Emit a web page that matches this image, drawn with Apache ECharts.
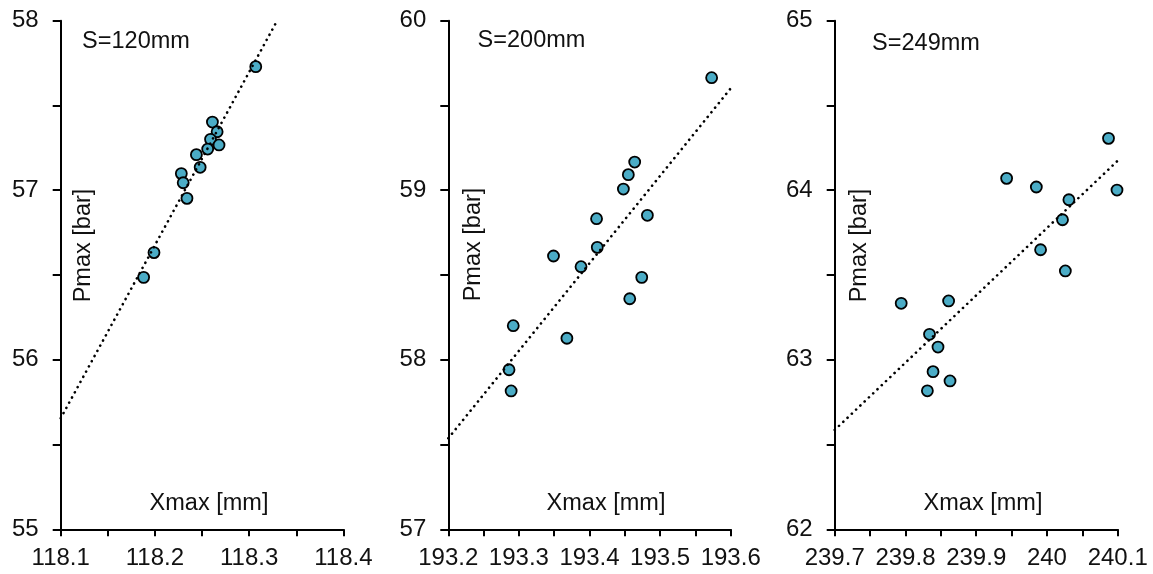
<!DOCTYPE html>
<html>
<head>
<meta charset="utf-8">
<script src="https://cdn.jsdelivr.net/npm/echarts@6/dist/echarts.min.js"></script>
<style>
  html, body { margin: 0; padding: 0; background: #fff; }
  #chart { width: 1153px; height: 574px; }
</style>
</head>
<body>
<div id="chart"></div>
<script>
// ---- Data ----
const panelTitles = ['S=120mm', 'S=200mm', 'S=249mm'];
const xAxisTitle = 'Xmax [mm]';
const yAxisTitle = 'Pmax [bar]';

const xMin = [118.1, 193.2, 239.7];
const xMax = [118.4, 193.6, 240.1];
const yMin = [55, 57, 62];
const yMax = [58, 60, 65];

const s120X = [118.307, 118.261, 118.266, 118.259, 118.268, 118.256, 118.244, 118.248, 118.228, 118.230, 118.234, 118.199, 118.188];
const s120Y = [57.729, 57.402, 57.345, 57.300, 57.267, 57.243, 57.210, 57.135, 57.098, 57.044, 56.952, 56.632, 56.486];

const s200X = [193.573, 193.464, 193.455, 193.448, 193.482, 193.410, 193.411, 193.349, 193.388, 193.474, 193.457, 193.292, 193.368, 193.286, 193.289];
const s200Y = [59.664, 59.166, 59.092, 59.007, 58.852, 58.832, 58.663, 58.612, 58.549, 58.486, 58.360, 58.201, 58.127, 57.941, 57.816];

const s249X = [240.087, 239.943, 239.985, 240.099, 240.031, 240.022, 239.991, 240.026, 239.794, 239.861, 239.834, 239.846, 239.839, 239.863, 239.831];
const s249Y = [64.306, 64.070, 64.019, 64.001, 63.944, 63.826, 63.649, 63.524, 63.333, 63.347, 63.150, 63.075, 62.930, 62.875, 62.817];

// linear trend lines (start / end)
const trend120X = [118.1, 118.3285];
const trend120Y = [55.655, 57.988];
const trend200X = [193.2, 193.6];
const trend200Y = [57.537, 59.601];
const trend249X = [239.7, 240.1];
const trend249Y = [62.586, 64.174];

// ---- Build ----
const pointsX = [s120X, s200X, s249X];
const pointsY = [s120Y, s200Y, s249Y];
const trendX = [trend120X, trend200X, trend249X];
const trendY = [trend120Y, trend200Y, trend249Y];

const FONT = '"Liberation Sans", Arial, sans-serif';
const TXT = '#111';
const FS_TICK = 24;
const FS_TXT = 23.5;

const gridBoxes = [
  { left: 60.7, top: 20.7, width: 282.7, height: 508.6 },
  { left: 448.3, top: 20.7, width: 282.4, height: 508.6 },
  { left: 834.7, top: 20.7, width: 283.0, height: 508.6 }
];

const zip = (xs, ys) => xs.map((x, i) => [x, ys[i]]);

const grids = [], xAxes = [], yAxes = [], series = [];
for (let p = 0; p < 3; p++) {
  grids.push(Object.assign({ containLabel: false }, gridBoxes[p]));
  xAxes.push({
    type: 'value', gridIndex: p, min: xMin[p], max: xMax[p], interval: 0.05,
    axisLine: { show: true, onZero: false, lineStyle: { color: '#000', width: 2 } },
    axisTick: { show: true, inside: false, length: 7, lineStyle: { color: '#000', width: 2 } },
    splitLine: { show: false },
    axisLabel: {
      margin: 17, color: TXT, fontSize: FS_TICK, fontFamily: FONT,
      formatter: v => {
        const t = v * 10;
        return Math.abs(t - Math.round(t)) < 1e-6 ? String(Math.round(t) / 10) : '';
      }
    }
  });
  yAxes.push({
    type: 'value', gridIndex: p, min: yMin[p], max: yMax[p], interval: 0.5,
    axisLine: { show: true, onZero: false, lineStyle: { color: '#000', width: 2 } },
    axisTick: { show: true, inside: false, length: 8, lineStyle: { color: '#000', width: 2 } },
    splitLine: { show: false },
    axisLabel: {
      margin: 22, color: TXT, fontSize: FS_TICK, fontFamily: FONT,
      formatter: v => Math.abs(v - Math.round(v)) < 1e-6 ? String(Math.round(v)) : ''
    }
  });
  series.push({
    type: 'scatter', xAxisIndex: p, yAxisIndex: p,
    data: zip(pointsX[p], pointsY[p]),
    symbol: 'circle', symbolSize: 11,
    itemStyle: { color: '#4bacc6', borderColor: '#000', borderWidth: 1.8, opacity: 1 },
    emphasis: { disabled: true }, z: 2
  });
  series.push({
    type: 'line', xAxisIndex: p, yAxisIndex: p,
    data: zip(trendX[p], trendY[p]),
    symbol: 'none', silent: true,
    lineStyle: { color: '#000', width: 2.6, type: [0.1, 5.8], cap: 'round' },
    z: 3
  });
}

const textPos = [
  { s: [136, 41.5], pm: [83.5, 245.5], xm: [209, 504] },
  { s: [531.5, 40.5], pm: [474, 244.5], xm: [606, 504] },
  { s: [926, 43.5], pm: [860, 245.5], xm: [983, 504] }
];
const graphics = [];
const mkText = (txt, pos, rot) => ({
  type: 'text', x: pos[0], y: pos[1], rotation: rot || 0, silent: true, z: 10,
  style: { text: txt, x: 0, y: 0, fill: TXT, font: FS_TXT + 'px ' + FONT, textAlign: 'center', textVerticalAlign: 'middle' }
});
for (let p = 0; p < 3; p++) {
  graphics.push(mkText(panelTitles[p], textPos[p].s));
  graphics.push(mkText(yAxisTitle, textPos[p].pm, Math.PI / 2));
  graphics.push(mkText(xAxisTitle, textPos[p].xm));
}

const chart = echarts.init(document.getElementById('chart'), null, { renderer: 'canvas' });
chart.setOption({
  animation: false,
  backgroundColor: '#fff',
  grid: grids, xAxis: xAxes, yAxis: yAxes, series: series,
  graphic: graphics
});
</script>
</body>
</html>
